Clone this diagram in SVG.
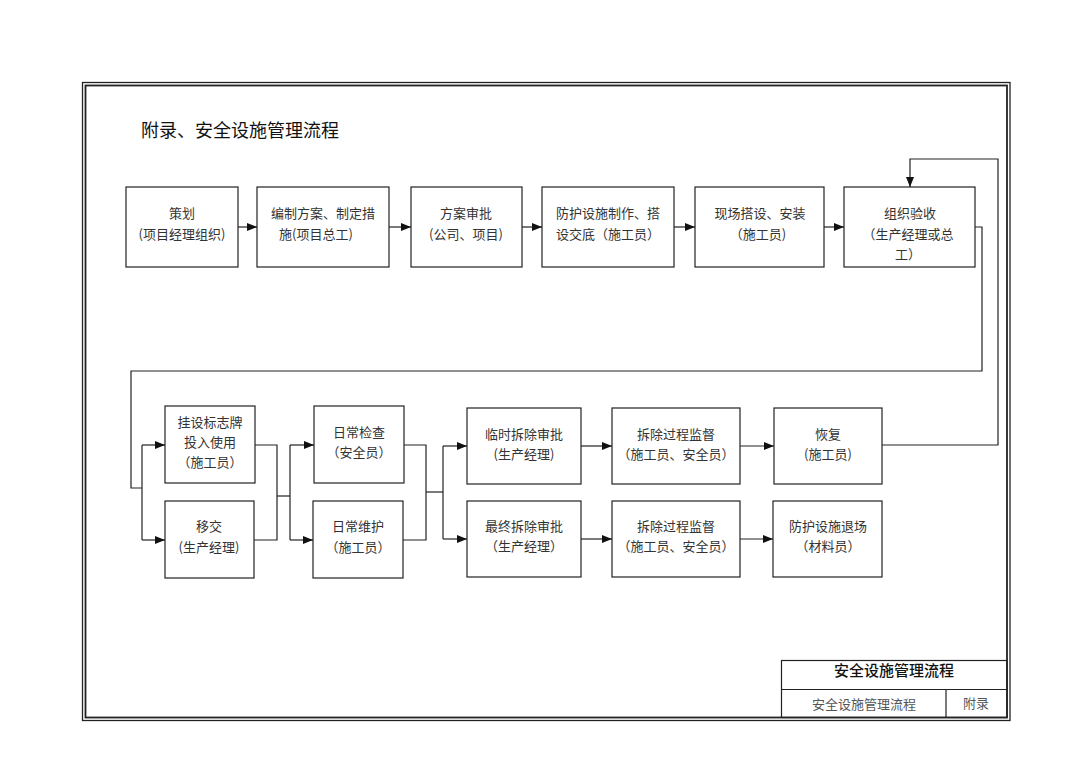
<svg xmlns="http://www.w3.org/2000/svg" width="1080" height="764" viewBox="0 0 1080 764">
<style>
.box{fill:#fff;stroke:#222;stroke-width:1.2}
.t{font-family:"Noto Sans CJK SC","Noto Sans",sans-serif;font-size:13px;fill:#333;text-anchor:middle}
.c{fill:none;stroke:#222;stroke-width:1.2}
.frame{fill:none;stroke:#222}
</style>
<defs>
<marker id="ah" markerUnits="userSpaceOnUse" markerWidth="10" markerHeight="8" refX="10" refY="4" orient="auto">
<path d="M0,0 L10,4 L0,8 z" fill="#111"/>
</marker>
</defs>
<rect width="1080" height="764" fill="#fff"/>
<rect class="frame" x="82.5" y="82.5" width="927.5" height="638" stroke-width="1.3"/>
<rect class="frame" x="85.5" y="85.5" width="921.5" height="632" stroke-width="1.8"/>
<text x="141" y="137" font-family="'Noto Sans CJK SC',sans-serif" font-size="18" font-weight="400" fill="#111">附录、安全设施管理流程</text>

<g id="n1"><rect class="box" x="126" y="187" width="112" height="80"/><text class="t" x="182" y="218">策划</text><text class="t" x="182" y="239">(项目经理组织)</text></g>
<g id="n2"><rect class="box" x="257" y="187" width="132" height="80"/><text class="t" x="323" y="218">编制方案、制定措</text><text class="t" x="316" y="239">施(项目总工)</text></g>
<g id="n3"><rect class="box" x="411" y="187" width="111" height="80"/><text class="t" x="466" y="218">方案审批</text><text class="t" x="466" y="239">(公司、项目)</text></g>
<g id="n4"><rect class="box" x="542" y="187" width="132" height="80"/><text class="t" x="608" y="218">防护设施制作、搭</text><text class="t" x="608" y="239">设交底（施工员）</text></g>
<g id="n5"><rect class="box" x="695" y="187" width="129" height="80"/><text class="t" x="760" y="218">现场搭设、安装</text><text class="t" x="758" y="239">（施工员)</text></g>
<g id="n6"><rect class="box" x="844" y="187" width="131" height="80"/><text class="t" x="910" y="218">组织验收</text><text class="t" x="908" y="239">（生产经理或总</text><text class="t" x="908" y="259">工）</text></g>

<g id="n7"><rect class="box" x="165" y="406" width="90" height="77"/><text class="t" x="210" y="427">挂设标志牌</text><text class="t" x="210" y="447">投入使用</text><text class="t" x="210" y="467">（施工员）</text></g>
<g id="n8"><rect class="box" x="165" y="501" width="89" height="77"/><text class="t" x="209" y="531">移交</text><text class="t" x="209" y="552">(生产经理)</text></g>
<g id="n9"><rect class="box" x="314" y="406" width="90" height="77"/><text class="t" x="359" y="437">日常检查</text><text class="t" x="359" y="457">（安全员）</text></g>
<g id="n10"><rect class="box" x="313" y="501" width="90" height="77"/><text class="t" x="358" y="531">日常维护</text><text class="t" x="358" y="552">（施工员）</text></g>
<g id="n11"><rect class="box" x="467" y="408" width="114" height="76"/><text class="t" x="524" y="439">临时拆除审批</text><text class="t" x="524" y="459">(生产经理)</text></g>
<g id="n12"><rect class="box" x="612" y="408" width="128" height="76"/><text class="t" x="676" y="439">拆除过程监督</text><text class="t" x="676" y="459">（施工员、安全员）</text></g>
<g id="n13"><rect class="box" x="774" y="408" width="108" height="76"/><text class="t" x="828" y="439">恢复</text><text class="t" x="828" y="459">(施工员)</text></g>
<g id="n14"><rect class="box" x="467" y="501" width="114" height="76"/><text class="t" x="524" y="531">最终拆除审批</text><text class="t" x="524" y="551">（生产经理）</text></g>
<g id="n15"><rect class="box" x="612" y="501" width="128" height="76"/><text class="t" x="676" y="531">拆除过程监督</text><text class="t" x="676" y="551">（施工员、安全员）</text></g>
<g id="n16"><rect class="box" x="773" y="501" width="109" height="76"/><text class="t" x="828" y="531">防护设施退场</text><text class="t" x="828" y="551">（材料员）</text></g>

<g id="connectors">
<path class="c" d="M238,227 H257" marker-end="url(#ah)"/>
<path class="c" d="M389,227 H411" marker-end="url(#ah)"/>
<path class="c" d="M522,227 H542" marker-end="url(#ah)"/>
<path class="c" d="M674,227 H695" marker-end="url(#ah)"/>
<path class="c" d="M824,227 H844" marker-end="url(#ah)"/>
<path class="c" d="M975,227 H982 V371 H131 V488 H142"/>
<path class="c" d="M142,445 V540"/>
<path class="c" d="M142,445 H165" marker-end="url(#ah)"/>
<path class="c" d="M142,540 H165" marker-end="url(#ah)"/>
<path class="c" d="M255,445 H277 V540 H254"/>
<path class="c" d="M277,496 H290"/>
<path class="c" d="M290,445 V540"/>
<path class="c" d="M290,445 H314" marker-end="url(#ah)"/>
<path class="c" d="M290,540 H313" marker-end="url(#ah)"/>
<path class="c" d="M404,445 H426 V540 H403"/>
<path class="c" d="M426,492 H443"/>
<path class="c" d="M443,446 V539"/>
<path class="c" d="M443,446 H467" marker-end="url(#ah)"/>
<path class="c" d="M443,539 H467" marker-end="url(#ah)"/>
<path class="c" d="M581,446 H612" marker-end="url(#ah)"/>
<path class="c" d="M740,446 H774" marker-end="url(#ah)"/>
<path class="c" d="M581,539 H612" marker-end="url(#ah)"/>
<path class="c" d="M740,539 H773" marker-end="url(#ah)"/>
<path class="c" d="M882,445 H998 V159 H910 V187" marker-end="url(#ah)"/>
</g>

<g id="titleblock">
<rect x="781.5" y="660.5" width="225.5" height="57" fill="none" stroke="#222" stroke-width="1.2"/>
<line x1="781.5" y1="689.5" x2="1007" y2="689.5" stroke="#222" stroke-width="1.2"/>
<line x1="946" y1="689.5" x2="946" y2="717.5" stroke="#222" stroke-width="1.2"/>
<text x="894" y="676" font-family="'Noto Sans CJK SC',sans-serif" font-size="15" font-weight="500" fill="#111" text-anchor="middle">安全设施管理流程</text>
<text x="864" y="709" font-family="'Noto Sans CJK SC',sans-serif" font-size="13" fill="#555" text-anchor="middle">安全设施管理流程</text>
<text x="976" y="708" font-family="'Noto Sans CJK SC',sans-serif" font-size="13" fill="#555" text-anchor="middle">附录</text>
</g>
</svg>
